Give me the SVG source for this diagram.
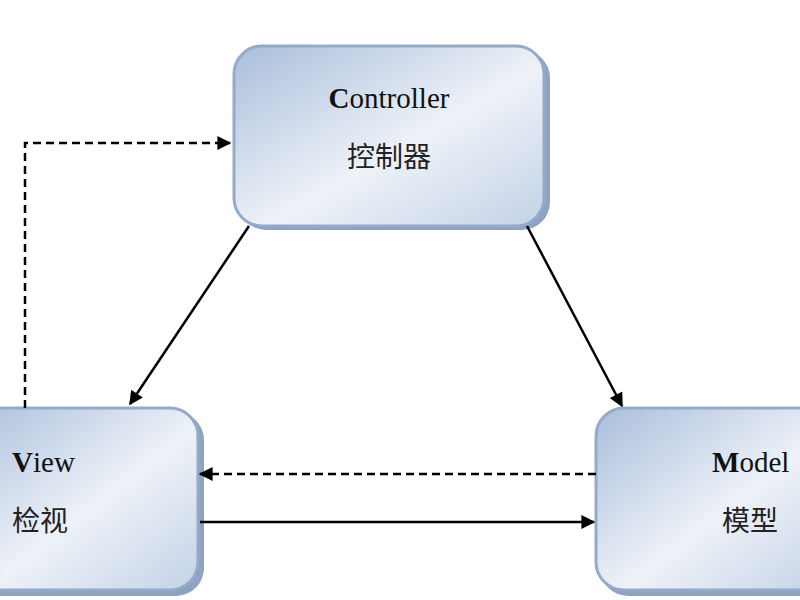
<svg xmlns="http://www.w3.org/2000/svg" width="800" height="600" viewBox="0 0 800 600">
<defs>
<linearGradient id="g" x1="0" y1="0" x2="1" y2="1">
<stop offset="0" stop-color="#a9bedb"/>
<stop offset="0.55" stop-color="#eef2f8"/>
<stop offset="1" stop-color="#c3d2e6"/>
</linearGradient>
<marker id="b" viewBox="0 0 10 10" refX="9" refY="5" markerWidth="16" markerHeight="14" orient="auto" markerUnits="userSpaceOnUse">
<path d="M0,0 L10,5 L0,10 z" fill="#000"/>
</marker>
</defs>
<style>
.box{fill:url(#g);stroke:#93aacb;stroke-width:3}
.sh{fill:#8fa3bf}
.en{font-family:"Liberation Serif",serif;font-size:29px;fill:#111}
.zh{font-family:"Noto Sans CJK SC",sans-serif;font-size:28px;fill:#222}
.ln{stroke:#000;stroke-width:2.5;fill:none}
.d{stroke-dasharray:8,5}
</style>
<rect width="800" height="600" fill="#fff"/>
<g id="controller">
<rect class="sh" x="238" y="50" width="312" height="180" rx="28"/>
<rect class="box" x="234" y="46" width="310" height="180" rx="28"/>
<text class="en" x="389" y="108" text-anchor="middle"><tspan font-weight="bold">C</tspan>ontroller</text>
<text class="zh" x="389" y="167" text-anchor="middle">控制器</text>
</g>
<g id="view">
<rect class="sh" x="-36" y="412" width="240" height="184" rx="28"/>
<rect class="box" x="-40" y="408" width="238" height="182" rx="28"/>
<text class="en" x="12" y="472"><tspan font-weight="bold">V</tspan>iew</text>
<text class="zh" x="12" y="531">检视</text>
</g>
<g id="model">
<rect class="sh" x="600" y="412" width="240" height="184" rx="28"/>
<rect class="box" x="596" y="408" width="238" height="182" rx="28"/>
<text class="en" x="712" y="472"><tspan font-weight="bold">M</tspan>odel</text>
<text class="zh" x="722" y="531">模型</text>
</g>
<g id="connectors">
<path class="ln d" d="M25,408 V143 H230" marker-end="url(#b)"/>
<path class="ln" d="M249,226 L130,404" marker-end="url(#b)"/>
<path class="ln" d="M527,226 L622,406" marker-end="url(#b)"/>
<path class="ln d" d="M596,474 H200" marker-end="url(#b)"/>
<path class="ln" d="M200,522 H594" marker-end="url(#b)"/>
</g>
</svg>
